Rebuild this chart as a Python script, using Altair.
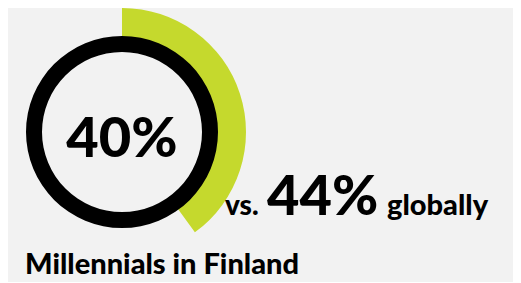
import altair as alt
import pandas as pd

# Data
finland_pct = [40]
global_pct = [44]
subtitle = ["Millennials in Finland"]

FONT = "Lato"
GREEN = "#c5d92d"

ring_df = pd.DataFrame({"part": ["ring"], "value": [100]})
arc_df = pd.DataFrame({"part": ["finland"], "value": finland_pct})
center_df = pd.DataFrame({"label": [f"{v}%" for v in finland_pct]})
vs_df = pd.DataFrame({"label": ["vs."]})
glob_df = pd.DataFrame({"label": [f"{v}%" for v in global_pct]})
globally_df = pd.DataFrame({"label": ["globally"]})
sub_df = pd.DataFrame({"label": subtitle})

theta_scale = alt.Scale(domain=[0, 100], range=[0, 6.283185307179586])
CX, CY = 114, 124

green = alt.Chart(arc_df).mark_arc(color=GREEN, innerRadius=85, outerRadius=124).encode(
    theta=alt.Theta("value:Q", scale=theta_scale),
    x=alt.value(CX), y=alt.value(CY),
)
ring = alt.Chart(ring_df).mark_arc(color="#000000", innerRadius=80, outerRadius=96).encode(
    theta=alt.Theta("value:Q", scale=theta_scale),
    x=alt.value(CX), y=alt.value(CY),
)
center_text = alt.Chart(center_df).mark_text(
    font=FONT, fontWeight=900, fontSize=56, align="center", baseline="alphabetic", color="#000000"
).encode(text="label:N", x=alt.value(CX), y=alt.value(149))

vs_text = alt.Chart(vs_df).mark_text(
    font=FONT, fontWeight=900, fontSize=28, align="left", baseline="alphabetic", color="#000000"
).encode(text="label:N", x=alt.value(217), y=alt.value(207))

glob_text = alt.Chart(glob_df).mark_text(
    font=FONT, fontWeight=900, fontSize=56, align="left", baseline="alphabetic", color="#000000"
).encode(text="label:N", x=alt.value(259), y=alt.value(207))

globally_text = alt.Chart(globally_df).mark_text(
    font=FONT, fontWeight=900, fontSize=29, align="left", baseline="alphabetic", color="#000000"
).encode(text="label:N", x=alt.value(379), y=alt.value(207))

sub_text = alt.Chart(sub_df).mark_text(
    font=FONT, fontWeight=900, fontSize=29, align="left", baseline="alphabetic", color="#000000"
).encode(text="label:N", x=alt.value(17), y=alt.value(266))

chart = alt.layer(green, ring, center_text, vs_text, glob_text, globally_text, sub_text).properties(
    width=505, height=274, padding=0, autosize=alt.AutoSizeParams(type="none"),
    background="#f2f2f2",
).configure_view(stroke=None)

chart.save("out.html", embed_options={"renderer": "svg", "actions": False})
